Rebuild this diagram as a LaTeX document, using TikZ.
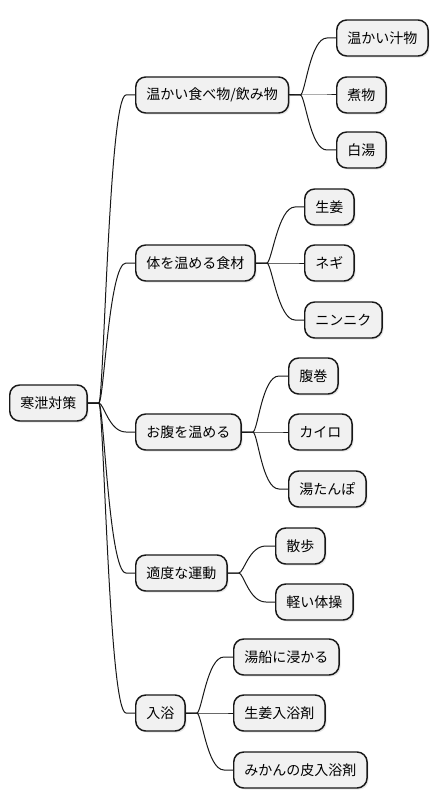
\documentclass[tikz,border=0pt]{standalone}
\usepackage{fontspec}
\setmainfont{Noto Sans CJK JP}
\usepackage{tikz}
\usetikzlibrary{calc,shadows}
\definecolor{boxfill}{HTML}{F1F1F1}
\definecolor{boxline}{HTML}{181818}

\tikzset{
  topic/.style={draw=boxline,line width=1.1pt,fill=boxfill,rounded corners=7.5pt,
    minimum height=27pt,inner xsep=8pt,anchor=west,font=\fontsize{10.5}{12}\selectfont,
    drop shadow={opacity=0.18,shadow xshift=1.2pt,shadow yshift=-1.2pt}},
  branch/.style={boxline,line width=0.75pt}
}
% curved link from a parent to a child
\newcommand{\mmlink}[2]{%
  \draw[branch] (#1.east) -- ($(#1.east)+(11,0)$)
    .. controls ($(#1.east)+(16,0)$) and ($(#2.west)+(-26,0)$) .. ($(#2.west)+(-9,0)$) -- (#2.west);}

\begin{document}
\begin{tikzpicture}[x=0.75pt,y=-0.75pt]
  \useasboundingbox (0,0) rectangle (437,809);

  % root
  \node[topic] (root) at (9,403) {寒泄対策};

  % first level
  \node[topic] (food) at (135,95) {温かい食べ物/飲み物};
  \node[topic] (ingr) at (135,263) {体を温める食材};
  \node[topic] (belly) at (135,432) {お腹を温める};
  \node[topic] (move) at (135,573) {適度な運動};
  \node[topic] (bath) at (135,713) {入浴};

  % second level
  \node[topic] (soup) at (336,38) {温かい汁物};
  \node[topic] (nimono) at (336,95) {煮物};
  \node[topic] (sayu) at (336,150) {白湯};

  \node[topic] (ginger) at (304,207) {生姜};
  \node[topic] (negi) at (304,263) {ネギ};
  \node[topic] (garlic) at (304,320) {ニンニク};

  \node[topic] (haramaki) at (288,376) {腹巻};
  \node[topic] (kairo) at (288,432) {カイロ};
  \node[topic] (yutanpo) at (288,489) {湯たんぽ};

  \node[topic] (walk) at (275,546) {散歩};
  \node[topic] (gym) at (275,602) {軽い体操};

  \node[topic] (soak) at (233,657) {湯船に浸かる};
  \node[topic] (gbath) at (233,713) {生姜入浴剤};
  \node[topic] (mikan) at (233,770) {みかんの皮入浴剤};

  % links
  \foreach \c in {food,ingr,belly,move,bath} {\mmlink{root}{\c}}
  \foreach \c in {soup,nimono,sayu} {\mmlink{food}{\c}}
  \foreach \c in {ginger,negi,garlic} {\mmlink{ingr}{\c}}
  \foreach \c in {haramaki,kairo,yutanpo} {\mmlink{belly}{\c}}
  \foreach \c in {walk,gym} {\mmlink{move}{\c}}
  \foreach \c in {soak,gbath,mikan} {\mmlink{bath}{\c}}
\end{tikzpicture}
\end{document}
